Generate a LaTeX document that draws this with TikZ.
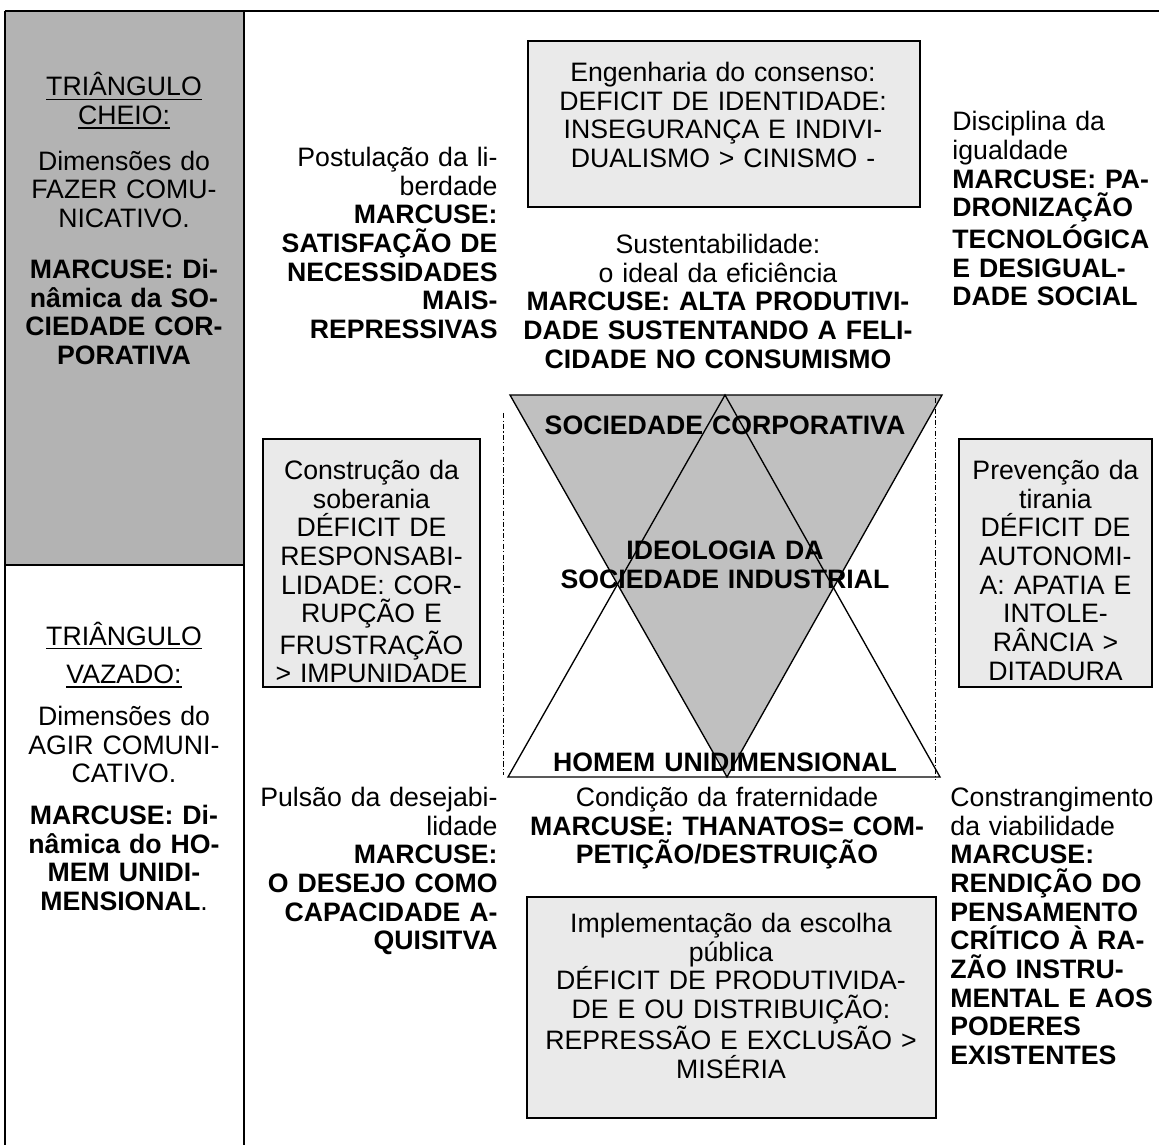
\documentclass[tikz,border=0pt]{standalone}
\usepackage{fontspec}
\setmainfont{Liberation Sans}
\definecolor{colgray}{RGB}{179,179,179}
\definecolor{trigray}{RGB}{192,192,192}
\definecolor{boxgray}{RGB}{234,234,234}
\newcommand{\ulword}[1]{\leavevmode\setbox0\hbox{#1}\rlap{\rule[-2pt]{\wd0}{0.8pt}}\box0}
\tikzset{
  txt/.style={font=\fontsize{12}{12.9}\selectfont, inner sep=0pt},
  mid/.style={txt, anchor=base, text width=#1, align=center},
  rgt/.style={txt, anchor=base east, text width=150pt, align=right},
  lft/.style={txt, anchor=base west, text width=150pt, align=left},
  greybox/.style={draw, fill=boxgray, line width=0.8pt},
  rule/.style={line width=0.9pt},
  tri/.style={line width=0.6pt, line join=miter},
  axis/.style={line width=0.45pt, dash pattern=on 2.4pt off 1pt on 0.5pt off 1pt},
}
\begin{document}
\begin{tikzpicture}[x=0.45pt, y=-0.45pt]
    \useasboundingbox (0,0) rectangle (1159,1145);
    % left column of the table
    \fill[colgray] (5,11) rectangle (244,565);
    \draw[rule] (5,11) -- (1159,11);
    \draw[rule] (5,11) -- (5,1145);
    \draw[rule] (244,11) -- (244,1145);
    \draw[rule] (5,565) -- (244,565);

    \node[mid=100pt] (cheio) at (124,96)
        {\ulword{TRIÂNGULO}\\\ulword{CHEIO:}\\[7.6pt]
         Dimensões do\\FAZER COMU-\\NICATIVO.\\[10pt]
         \bfseries MARCUSE: Di-\\nâmica da SO-\\CIEDADE COR-\\PORATIVA};
    \node[mid=100pt] (vazado) at (124,645)
        {\ulword{TRIÂNGULO}\\[4.5pt]\ulword{VAZADO:}\\[5.9pt]
         Dimensões do\\AGIR COMUNI-\\CATIVO.\\[5.9pt]
         \textbf{MARCUSE: Di-}\\\textbf{nâmica do HO-}\\\textbf{MEM UNIDI-}\\\textbf{MENSIONAL}.};

    % grey boxes
    \draw[greybox] (528,41) rectangle (920,207);
    \draw[greybox] (263,439) rectangle (480,687);
    \draw[greybox] (959,439) rectangle (1152,687);
    \draw[greybox] (527,897) rectangle (936,1118);

    % triangles
    \coordinate (tl) at (510,395);
    \coordinate (tr) at (942,395);
    \coordinate (tb) at (727,777);
    \coordinate (bl) at (508,777);
    \coordinate (br) at (940,777);
    \coordinate (bt) at (725,395);
    \filldraw[tri, fill=trigray] (tl) -- (tr) -- (tb) -- cycle;
    \draw[tri] (bl) -- (br) -- (bt) -- cycle;
    \draw[axis] (503,413) -- (503,775);
    \draw[axis] (935,398) -- (935,780);

    \node[mid=220pt, font=\fontsize{12}{12.9}\selectfont\bfseries] (corp) at (725,434.5) {SOCIEDADE CORPORATIVA};
    \node[mid=220pt, font=\fontsize{12}{12.9}\selectfont\bfseries] (ideol) at (725,559.5) {IDEOLOGIA DA\\SOCIEDADE INDUSTRIAL};
    \node[mid=220pt, font=\fontsize{12}{12.9}\selectfont\bfseries] (homem) at (725,771.5) {HOMEM UNIDIMENSIONAL};

    % texts round the triangles
    \node[mid=200pt] (engenh) at (723,81.5)
        {Engenharia do consenso:\\DEFICIT DE IDENTIDADE:\\INSEGURANÇA E INDIVI-\\DUALISMO > CINISMO -};
    \node[rgt] (postul) at (498,166.5)
        {Postulação da li-\\berdade\\\bfseries MARCUSE:\\SATISFAÇÃO DE\\NECESSIDADES\\MAIS-\\REPRESSIVAS};
    \node[mid=220pt] (sustent) at (718,253.5)
        {Sustentabilidade:\\o ideal da eficiência\\\bfseries MARCUSE: ALTA PRODUTIVI-\\DADE SUSTENTANDO A FELI-\\CIDADE NO CONSUMISMO};
    \node[lft] (discipl) at (952,131)
        {Disciplina da\\igualdade\\\bfseries MARCUSE: PA-\\DRONIZAÇÃO\\TECNOLÓGICA\\E DESIGUAL-\\DADE SOCIAL};
    \node[mid=95pt] (constr) at (371.5,479.5)
        {Construção da\\soberania\\DÉFICIT DE\\RESPONSABI-\\LIDADE: COR-\\RUPÇÃO E\\FRUSTRAÇÃO\\> IMPUNIDADE};
    \node[mid=95pt] (preven) at (1055.5,479.5)
        {Prevenção da\\tirania\\DÉFICIT DE\\AUTONOMI-\\A: APATIA E\\INTOLE-\\RÂNCIA >\\DITADURA};
    \node[rgt] (pulsao) at (498,806.5)
        {Pulsão da desejabi-\\lidade\\\bfseries MARCUSE:\\O DESEJO COMO\\CAPACIDADE A-\\QUISITVA};
    \node[mid=220pt] (fratern) at (727,806.5)
        {Condição da fraternidade\\\bfseries MARCUSE: THANATOS= COM-\\PETIÇÃO/DESTRUIÇÃO};
    \node[mid=200pt] (implem) at (731,932.5)
        {Implementação da escolha\\pública\\DÉFICIT DE PRODUTIVIDA-\\DE E OU DISTRIBUIÇÃO:\\REPRESSÃO E EXCLUSÃO >\\MISÉRIA};
    \node[lft] (constrang) at (950,806.5)
        {Constrangimento\\da viabilidade\\\bfseries MARCUSE:\\RENDIÇÃO DO\\PENSAMENTO\\CRÍTICO À RA-\\ZÃO INSTRU-\\MENTAL E AOS\\PODERES\\EXISTENTES};
\end{tikzpicture}
\end{document}
